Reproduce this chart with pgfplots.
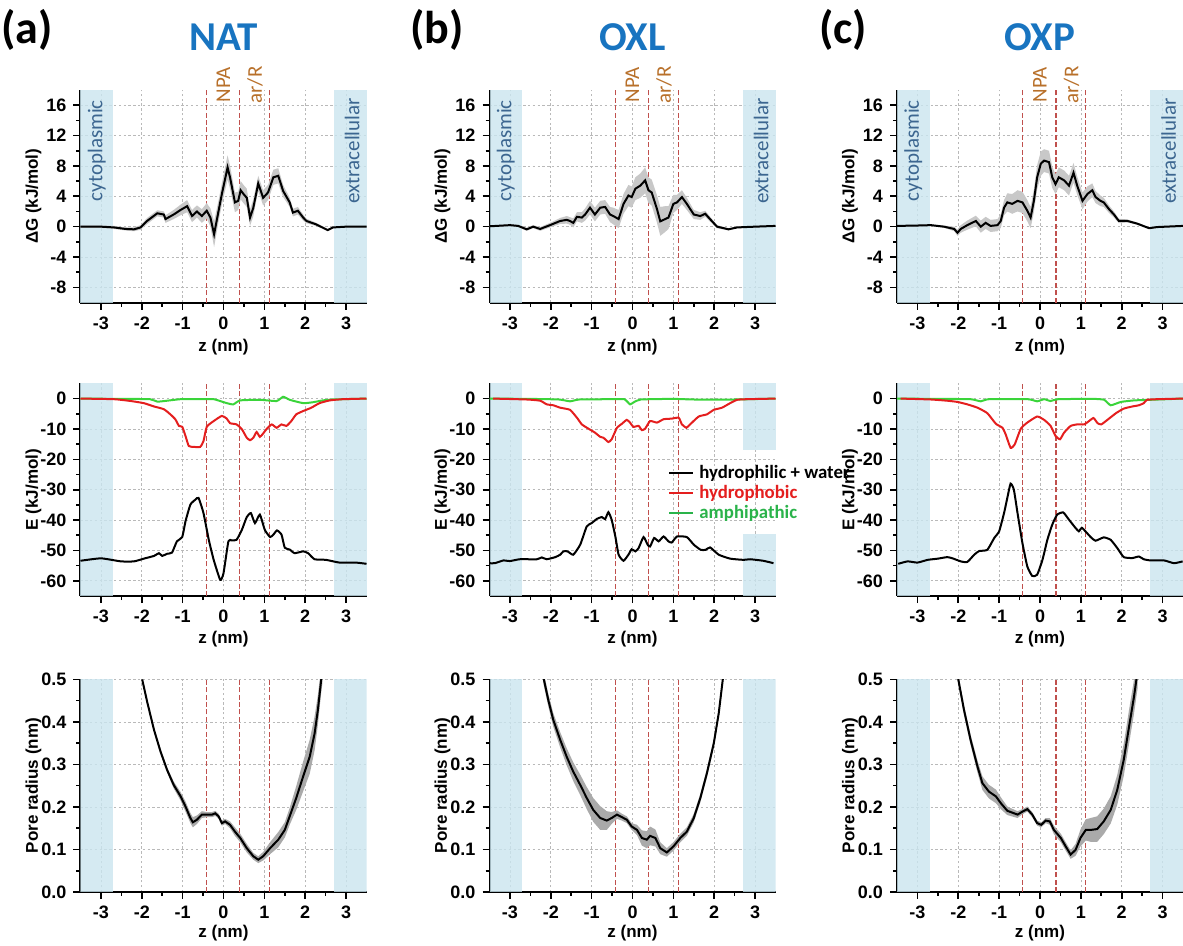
\documentclass[border=0pt]{standalone}
\usepackage{fontspec}
\setmainfont{Liberation Sans}
\newfontfamily\calfont{Carlito}
\usepackage{pgfplots}
\usepackage{pgfplotstable}
\pgfplotsset{compat=1.18}

\definecolor{bandblue}{HTML}{CAE5EF}
\definecolor{bandtxt}{HTML}{3C6690}
\definecolor{titleblue}{HTML}{1874C0}
\definecolor{lblorange}{HTML}{B8702A}
\definecolor{vred}{HTML}{C0504D}
\definecolor{errgray}{HTML}{C8C8C8}
\definecolor{cred}{HTML}{E41E1E}
\definecolor{cgreen}{HTML}{3AD43A}
\definecolor{tgreen}{HTML}{2AB34A}

\newcommand{\tickfont}{\fontsize{9}{10}\selectfont\bfseries}
\newcommand{\labfont}{\fontsize{8.5}{10}\selectfont\bfseries}

\tikzset{vline/.style={vred, line width=0.6pt, dash pattern=on 2.5pt off 1.2pt}}

\pgfplotsset{
  base/.style={
    scale only axis, width=143pt, height=106.3pt,
    anchor=north west,
    xmin=-3.5, xmax=3.5,
    xtick={-3,...,3}, minor x tick num=1,
    minor y tick num=1,
    axis lines=left, axis line style={line width=1pt, -},
    tick style={black, line width=0.8pt},
    major tick length=3.5pt, minor tick length=2pt,
    tick align=outside,
    xmajorgrids, ymajorgrids,
    major grid style={gray!55, dash pattern=on 1.2pt off 1.2pt, line width=0.35pt},
    tick label style={font=\tickfont},
    /pgf/number format/assume math mode=true,
    xlabel={z (nm)},
    every axis x label/.style={at={(axis description cs:0.5,0)}, anchor=center, font=\labfont},
    every axis y label/.style={at={(axis description cs:0,0.5)}, xshift=-23.5pt, rotate=90, anchor=center, font=\labfont},
  },
  grow/.style={base, clip=false, ymin=-10, ymax=18, ytick={-8,-4,...,16}, ylabel={ΔG (kJ/mol)},
    x label style={yshift=-22.5pt}},
  erow/.style={base, clip=false, ymin=-65, ymax=5, ytick={-60,-50,...,0}, ylabel={E (kJ/mol)},
    x label style={yshift=-21.8pt}},
  prow/.style={base, ymin=0, ymax=0.5, ytick={0,0.1,...,0.5}, ylabel={Pore radius (nm)},
    yticklabel style={/pgf/number format/.cd, fixed, fixed zerofill, precision=1},
    x label style={yshift=-20.4pt}},
}

% shaded membrane-side bands (semi-transparent so the grid shows through)
\newcommand{\bandrect}[4]{%
  \fill[bandblue, fill opacity=0.8] (axis cs:#1,#2) rectangle (axis cs:#3,#4);}
\newcommand{\bands}[2]{\bandrect{-3.5}{#1}{-2.7}{#2}\bandrect{2.7}{#1}{3.5}{#2}}
\newcommand{\vlines}[2]{%
  \draw[vline] (axis cs:-0.42,#1) -- (axis cs:-0.42,#2);
  \draw[vline] (axis cs:0.39,#1) -- (axis cs:0.39,#2);
  \draw[vline] (axis cs:1.12,#1) -- (axis cs:1.12,#2);}
\newcommand{\toplabels}{%
  \node[yshift=2.5pt, rotate=90, anchor=center, text=lblorange, font=\calfont\fontsize{10.5}{12}\selectfont] at (axis cs:0,18) {NPA};
  \node[yshift=2.5pt, rotate=90, anchor=center, text=lblorange, font=\calfont\fontsize{10.5}{12}\selectfont] at (axis cs:0.77,18) {ar/R};
  \node[rotate=90, anchor=center, text=bandtxt, font=\calfont\fontsize{10.5}{12}\selectfont] at (axis cs:-3.1,10) {cytoplasmic};
  \node[rotate=90, anchor=center, text=bandtxt, font=\calfont\fontsize{10.5}{12}\selectfont] at (axis cs:3.15,10) {extracellular};}
% error band of column #2 (+/- column #3) of table #1, then the line itself
\newcommand{\errline}[4]{%
  \addplot[draw=none, stack plots=y, forget plot] table[x=z, y expr=\thisrow{#2}-\thisrow{#3}] {#1};
  \addplot[fill=#4, draw=none, stack plots=y, forget plot] table[x=z, y expr=2*\thisrow{#3}] {#1} \closedcycle;
  \addplot[black, line width=1pt, stack plots=false] table[x=z, y=#2] {#1};}

% Delta G profiles: z, G, error
\pgfplotstableread{
z g e
-3.5 0 0.15
-3.0 0 0.15
-2.68 -0.1 0.2
-2.4 -0.3 0.2
-2.19 -0.35 0.25
-2.03 -0.1 0.3
-1.87 0.75 0.4
-1.62 1.76 0.4
-1.46 1.6 0.4
-1.42 1.0 0.5
-1.22 1.6 0.6
-1.05 2.2 0.7
-0.89 2.7 0.8
-0.77 1.4 0.8
-0.65 2.0 0.8
-0.53 1.4 0.9
-0.41 2.1 1.0
-0.32 1.2 1.2
-0.23 -1.0 1.7
-0.12 2.1 1.4
-0.04 4.3 1.4
0.1 7.8 1.6
0.16 6.5 1.5
0.28 3.2 1.3
0.36 3.4 1.2
0.42 4.8 1.2
0.49 4.3 1.2
0.57 3.8 1.2
0.65 1.2 1.1
0.73 2.5 1.1
0.85 5.7 1.0
0.97 3.8 1.0
1.09 4.5 1.0
1.22 6.5 1.0
1.34 6.7 1.0
1.46 4.7 0.8
1.62 3.2 0.6
1.70 1.85 0.5
1.82 2.1 0.5
1.95 1.2 0.4
2.03 0.75 0.3
2.27 0.3 0.2
2.55 -0.45 0.15
2.68 -0.1 0.1
3.0 0 0.1
3.5 0 0.1
}\gNAT
\pgfplotstableread{
z g e
-3.5 0.05 0.1
-3.0 0.2 0.1
-2.8 0.1 0.15
-2.59 -0.35 0.2
-2.43 0.0 0.2
-2.26 -0.3 0.25
-2.02 0.2 0.3
-1.77 0.75 0.4
-1.61 0.9 0.5
-1.53 0.75 0.5
-1.45 0.5 0.6
-1.36 1.3 0.6
-1.24 1.2 0.7
-1.16 1.6 0.8
-1.04 2.5 0.9
-0.92 1.6 0.9
-0.79 2.5 0.9
-0.67 2.6 0.9
-0.55 1.6 1.0
-0.47 1.4 1.1
-0.34 1.0 1.2
-0.22 3.0 1.3
-0.1 4.1 1.4
-0.02 3.9 1.4
0.07 5.0 1.5
0.19 5.4 1.6
0.31 6.1 1.7
0.39 4.8 1.7
0.47 4.5 1.7
0.6 2.3 1.8
0.68 0.7 1.9
0.8 1.0 1.7
0.88 1.2 1.5
1.0 3.0 1.2
1.09 3.2 1.0
1.21 3.9 0.9
1.33 3.0 0.8
1.5 1.6 0.6
1.66 1.4 0.5
1.78 1.7 0.4
1.94 0.75 0.3
2.07 0.0 0.2
2.35 -0.35 0.15
2.56 -0.1 0.1
3.0 0.0 0.1
3.5 0.1 0.1
}\gOXL
\pgfplotstableread{
z g e
-3.5 0.1 0.1
-3.0 0.15 0.1
-2.67 0.2 0.1
-2.35 0.0 0.15
-2.1 -0.3 0.3
-2.02 -0.8 0.4
-1.94 -0.3 0.5
-1.78 0.2 0.6
-1.57 0.75 0.7
-1.45 0.0 0.8
-1.33 0.5 0.8
-1.21 0.1 0.8
-1.04 0.2 0.8
-0.96 0.75 0.9
-0.88 2.5 1.0
-0.8 3.2 1.2
-0.68 3.0 1.3
-0.55 3.4 1.4
-0.43 3.2 1.4
-0.31 2.1 1.4
-0.23 1.2 1.4
-0.15 3.4 1.5
-0.07 6.5 1.6
0.02 8.3 1.6
0.1 8.7 1.5
0.22 8.5 1.5
0.3 6.5 1.4
0.38 5.6 1.3
0.46 6.5 1.3
0.59 6.1 1.3
0.71 5.4 1.3
0.82 7.1 1.3
0.91 5.4 1.2
1.04 3.4 1.1
1.16 4.3 1.0
1.28 4.8 0.9
1.36 3.9 0.8
1.48 3.4 0.7
1.56 3.2 0.6
1.69 2.3 0.5
1.81 1.6 0.4
1.93 0.75 0.3
2.14 0.75 0.2
2.38 0.4 0.15
2.67 -0.2 0.1
2.87 -0.05 0.1
3.5 0.1 0.1
}\gOXP

% Energy profiles
\pgfplotstableread{
z E
-3.5 -53.4
-3.0 -52.6
-2.51 -53.6
-2.19 -53.6
-1.95 -52.7
-1.7 -51.8
-1.58 -50.9
-1.5 -51.8
-1.38 -51.1
-1.26 -50.7
-1.14 -47.0
-1.01 -45.6
-0.93 -40.4
-0.81 -34.9
-0.69 -33.3
-0.61 -32.7
-0.49 -37.7
-0.36 -46.5
-0.24 -53.1
-0.08 -59.7
0.0 -57.5
0.12 -47.0
0.2 -46.7
0.32 -46.5
0.45 -43.2
0.57 -39.0
0.67 -37.7
0.77 -41.0
0.89 -38.2
1.01 -43.2
1.14 -45.6
1.22 -44.8
1.31 -43.4
1.42 -44.8
1.5 -49.1
1.62 -49.7
1.74 -50.9
1.95 -50.3
2.07 -50.9
2.23 -52.9
2.51 -53.1
2.84 -54.0
3.24 -54.0
3.5 -54.4
}\eNATk
\pgfplotstableread{
z E
-3.5 0
-2.68 -0.2
-2.27 -0.8
-1.95 -1.5
-1.7 -2.6
-1.46 -3.5
-1.3 -5.2
-1.18 -6.8
-1.09 -9.0
-1.01 -9.3
-0.93 -12.3
-0.85 -15.6
-0.73 -15.9
-0.57 -15.9
-0.49 -14.0
-0.41 -9.3
-0.24 -7.4
-0.04 -5.7
0.08 -6.6
0.16 -8.1
0.32 -8.5
0.45 -10.1
0.57 -12.9
0.65 -13.7
0.73 -12.9
0.81 -11.0
0.89 -12.6
0.97 -11.5
1.05 -10.1
1.18 -8.5
1.3 -9.6
1.42 -8.5
1.54 -9.0
1.66 -7.4
1.78 -5.2
1.95 -4.1
2.15 -3.0
2.35 -1.5
2.6 -0.6
2.92 -0.2
3.5 0
}\eNATr
\pgfplotstableread{
z E
-3.5 0
-2.5 -0.1
-1.8 -0.2
-1.62 -1.0
-1.38 -0.7
-1.05 -0.2
-0.57 -0.2
-0.24 -0.2
0.08 -1.5
0.24 -1.9
0.41 -0.6
0.89 -0.4
1.3 -0.8
1.46 0.6
1.62 -0.4
1.95 -1.5
2.19 -1.2
2.43 -0.6
2.68 -0.3
3.5 0
}\eNATg
\pgfplotstableread{
z E
-3.5 -54.2
-3.37 -54.2
-3.16 -53.3
-3.0 -53.5
-2.76 -52.9
-2.34 -52.9
-2.22 -52.3
-2.1 -52.9
-1.89 -52.2
-1.77 -51.4
-1.69 -50.3
-1.59 -50.3
-1.45 -51.4
-1.28 -48.1
-1.12 -42.1
-1.0 -41.0
-0.87 -39.6
-0.75 -39.0
-0.67 -39.7
-0.59 -37.4
-0.51 -39.9
-0.42 -45.4
-0.34 -51.4
-0.22 -53.4
-0.1 -51.4
-0.02 -49.6
0.07 -50.3
0.15 -49.2
0.27 -45.6
0.37 -48.1
0.43 -48.7
0.53 -45.9
0.64 -47.0
0.76 -45.4
0.88 -47.0
0.96 -47.4
1.09 -45.4
1.33 -45.6
1.5 -48.1
1.67 -49.8
1.79 -49.8
1.9 -49.0
2.11 -51.4
2.39 -52.7
2.72 -53.1
2.88 -52.9
3.2 -53.4
3.45 -54.2
}\eOXLk
\pgfplotstableread{
z E
-3.41 0
-2.59 -0.3
-2.26 -0.7
-2.1 -1.9
-1.94 -2.2
-1.77 -3.0
-1.53 -3.7
-1.36 -6.3
-1.24 -8.5
-1.08 -9.9
-0.92 -11.2
-0.79 -12.6
-0.71 -12.9
-0.59 -14.3
-0.51 -13.4
-0.38 -9.6
-0.26 -8.3
-0.14 -7.0
-0.06 -7.9
0.02 -9.3
0.15 -9.0
0.23 -10.4
0.31 -9.9
0.43 -7.4
0.6 -7.9
0.76 -6.8
0.96 -6.6
1.13 -6.3
1.21 -8.5
1.32 -9.6
1.41 -8.5
1.62 -5.9
1.82 -5.2
1.99 -3.7
2.19 -3.0
2.39 -1.5
2.56 -0.4
2.8 -0.2
3.5 0
}\eOXLr
\pgfplotstableread{
z E
-3.5 0
-2.5 -0.1
-1.8 -0.3
-1.53 -0.9
-1.3 -0.3
-0.5 -0.2
-0.2 -0.2
-0.06 -1.9
0.02 -1.3
0.2 -0.3
1.0 -0.1
1.5 -0.3
2.5 -0.3
3.5 0
}\eOXLg
\pgfplotstableread{
z E
-3.47 -54.4
-3.24 -53.6
-3.0 -54.0
-2.75 -53.1
-2.5 -52.7
-2.27 -52.2
-2.14 -52.6
-1.94 -53.6
-1.78 -53.8
-1.61 -51.4
-1.49 -50.2
-1.29 -49.8
-1.12 -45.9
-1.0 -43.7
-0.88 -37.7
-0.8 -32.7
-0.72 -28.0
-0.64 -30.0
-0.55 -37.7
-0.43 -47.6
-0.31 -55.3
-0.19 -58.4
-0.07 -58.0
0.06 -53.1
0.18 -46.5
0.3 -41.5
0.42 -38.2
0.57 -37.5
0.71 -39.9
0.87 -42.6
0.95 -43.7
1.03 -42.6
1.24 -45.6
1.36 -46.8
1.56 -45.7
1.73 -46.5
1.89 -49.2
2.05 -52.2
2.26 -52.5
2.42 -52.0
2.54 -52.9
2.71 -53.3
3.04 -53.3
3.28 -54.2
3.49 -53.6
}\eOXPk
\pgfplotstableread{
z E
-3.41 0
-2.67 -0.3
-2.27 -0.7
-2.02 -1.1
-1.78 -1.9
-1.53 -3.0
-1.29 -4.8
-1.08 -8.3
-0.92 -9.6
-0.84 -11.8
-0.72 -16.2
-0.62 -15.1
-0.47 -9.9
-0.31 -7.9
-0.07 -5.9
0.1 -7.0
0.26 -9.0
0.38 -12.3
0.49 -13.4
0.59 -11.2
0.75 -9.0
0.91 -8.5
1.08 -8.5
1.2 -7.4
1.31 -6.4
1.41 -8.1
1.5 -8.5
1.65 -7.0
1.86 -4.8
2.05 -3.3
2.26 -2.6
2.42 -2.2
2.54 -1.5
2.62 -0.4
2.87 -0.2
3.5 0
}\eOXPr
\pgfplotstableread{
z E
-3.5 0
-2.5 -0.1
-1.7 -0.2
-1.45 -0.9
-1.25 -0.2
-0.3 -0.2
-0.07 -0.9
0.1 -0.2
0.26 -0.8
0.45 -0.2
1.3 -0.1
1.57 -0.4
1.73 -2.2
1.98 -1.1
2.3 -0.6
2.7 -0.4
3.5 0
}\eOXPg

% Pore radius: z, r, error
\pgfplotstableread{
z r e
-1.99 0.5 0.005
-1.87 0.448 0.005
-1.70 0.381 0.005
-1.54 0.330 0.006
-1.38 0.287 0.006
-1.22 0.252 0.008
-1.05 0.225 0.010
-0.93 0.201 0.012
-0.81 0.174 0.012
-0.75 0.164 0.012
-0.65 0.170 0.010
-0.53 0.182 0.008
-0.41 0.182 0.006
-0.28 0.182 0.006
-0.2 0.185 0.006
-0.12 0.178 0.006
-0.04 0.162 0.006
0.04 0.166 0.006
0.16 0.158 0.008
0.28 0.142 0.010
0.41 0.127 0.010
0.57 0.103 0.010
0.73 0.084 0.008
0.85 0.076 0.008
0.97 0.084 0.010
1.14 0.103 0.014
1.34 0.123 0.018
1.5 0.146 0.018
1.62 0.178 0.020
1.78 0.221 0.028
1.95 0.272 0.035
2.11 0.318 0.040
2.23 0.373 0.040
2.31 0.428 0.035
2.39 0.498 0.030
2.42 0.52 0.03
}\rNAT
\pgfplotstableread{
z r e
-2.2 0.52 0.015
-2.17 0.5 0.015
-2.06 0.451 0.015
-1.94 0.405 0.016
-1.77 0.358 0.018
-1.61 0.318 0.020
-1.45 0.283 0.022
-1.28 0.252 0.024
-1.12 0.221 0.026
-0.96 0.193 0.028
-0.79 0.174 0.028
-0.63 0.168 0.022
-0.51 0.174 0.014
-0.38 0.182 0.010
-0.26 0.176 0.008
-0.14 0.170 0.008
-0.02 0.154 0.008
0.11 0.146 0.012
0.23 0.127 0.018
0.35 0.123 0.020
0.43 0.132 0.022
0.56 0.127 0.020
0.68 0.103 0.014
0.84 0.093 0.010
1.0 0.107 0.010
1.17 0.127 0.010
1.33 0.142 0.010
1.5 0.174 0.010
1.66 0.221 0.010
1.82 0.279 0.010
1.99 0.350 0.010
2.11 0.420 0.010
2.21 0.5 0.010
2.24 0.52 0.01
}\rOXL
\pgfplotstableread{
z r e
-2.03 0.52 0.012
-2.0 0.5 0.012
-1.86 0.428 0.012
-1.7 0.358 0.012
-1.53 0.295 0.014
-1.41 0.256 0.016
-1.25 0.236 0.016
-1.08 0.225 0.016
-0.96 0.209 0.014
-0.8 0.191 0.010
-0.55 0.182 0.008
-0.43 0.189 0.006
-0.31 0.195 0.006
-0.19 0.182 0.006
-0.07 0.162 0.006
0.03 0.158 0.006
0.14 0.168 0.006
0.24 0.166 0.008
0.34 0.146 0.010
0.51 0.127 0.010
0.63 0.107 0.010
0.75 0.088 0.010
0.87 0.099 0.014
0.99 0.127 0.020
1.12 0.146 0.025
1.24 0.146 0.028
1.4 0.148 0.030
1.56 0.166 0.030
1.73 0.193 0.032
1.89 0.240 0.035
2.05 0.311 0.038
2.18 0.389 0.040
2.3 0.459 0.040
2.36 0.5 0.040
2.39 0.52 0.04
}\rOXP

\begin{document}
\begin{tikzpicture}
\useasboundingbox (0,0) rectangle (591.5pt,-473pt);

% ---------- titles ----------
\node[font=\calfont\bfseries\fontsize{23}{26}\selectfont] at (13.5pt,-15pt) {(a)};
\node[font=\calfont\bfseries\fontsize{23}{26}\selectfont] at (218.5pt,-15pt) {(b)};
\node[font=\calfont\bfseries\fontsize{23}{26}\selectfont] at (421.5pt,-15pt) {(c)};
\node[font=\calfont\bfseries\fontsize{20.5}{23}\selectfont, text=titleblue] at (111.8pt,-18.8pt) {NAT};
\node[font=\calfont\bfseries\fontsize{20.5}{23}\selectfont, text=titleblue] at (316.2pt,-18.8pt) {OXL};
\node[font=\calfont\bfseries\fontsize{20.5}{23}\selectfont, text=titleblue] at (519.8pt,-18.8pt) {OXP};

% ---------- row 1: Delta G ----------
\begin{axis}[grow, at={(40.25pt,-45pt)}]
\bands{-10}{18}
\vlines{-10}{18}
\errline{\gNAT}{g}{e}{errgray}
\toplabels
\end{axis}
\begin{axis}[grow, at={(244.75pt,-45pt)}]
\bands{-10}{18}
\vlines{-10}{18}
\errline{\gOXL}{g}{e}{errgray}
\toplabels
\end{axis}
\begin{axis}[grow, at={(448.5pt,-45pt)}]
\bands{-10}{18}
\vlines{-10}{18}
\errline{\gOXP}{g}{e}{errgray}
\toplabels
\end{axis}

% ---------- row 2: energies ----------
\begin{axis}[erow, at={(40.25pt,-191.7pt)}]
\bands{-65}{5}
\vlines{-65}{5}
\addplot[cgreen, line width=1pt, smooth, tension=0.3] table[x=z, y=E] {\eNATg};
\addplot[cred, line width=1pt, smooth, tension=0.3] table[x=z, y=E] {\eNATr};
\addplot[black, line width=1pt, smooth, tension=0.3] table[x=z, y=E] {\eNATk};
\end{axis}
\begin{axis}[erow, at={(244.75pt,-191.7pt)}]
\bandrect{-3.5}{-65}{-2.7}{5}
\bandrect{2.7}{-17}{3.5}{5}
\bandrect{2.7}{-65}{3.5}{-44.5}
\vlines{-65}{5}
\addplot[cgreen, line width=1pt, smooth, tension=0.3] table[x=z, y=E] {\eOXLg};
\addplot[cred, line width=1pt, smooth, tension=0.3] table[x=z, y=E] {\eOXLr};
\addplot[black, line width=1pt, smooth, tension=0.3] table[x=z, y=E] {\eOXLk};
\end{axis}
\begin{axis}[erow, at={(448.5pt,-191.7pt)}]
\bands{-65}{5}
\vlines{-65}{5}
\addplot[cgreen, line width=1pt, smooth, tension=0.3] table[x=z, y=E] {\eOXPg};
\addplot[cred, line width=1pt, smooth, tension=0.3] table[x=z, y=E] {\eOXPr};
\addplot[black, line width=1pt, smooth, tension=0.3] table[x=z, y=E] {\eOXPk};
\end{axis}

% legend
\draw[black, line width=1.4pt] (334.5pt,-236.5pt) -- (346.5pt,-236.5pt);
\draw[cred, line width=1.4pt] (334.5pt,-246.5pt) -- (346.5pt,-246.5pt);
\draw[tgreen, line width=1.4pt] (334.5pt,-256.5pt) -- (346.5pt,-256.5pt);
\node[anchor=west, inner sep=0pt, font=\calfont\bfseries\fontsize{9.4}{11}\selectfont] at (349.5pt,-236.5pt) {hydrophilic + water};
\node[anchor=west, inner sep=0pt, font=\calfont\bfseries\fontsize{9.4}{11}\selectfont, text=cred] at (349.5pt,-246.5pt) {hydrophobic};
\node[anchor=west, inner sep=0pt, font=\calfont\bfseries\fontsize{9.4}{11}\selectfont, text=tgreen] at (349.5pt,-256.5pt) {amphipathic};

% ---------- row 3: pore radius ----------
\begin{axis}[prow, at={(40.25pt,-339.7pt)}]
\bands{0}{0.5}
\vlines{0}{0.5}
\errline{\rNAT}{r}{e}{errgray!85!black}
\end{axis}
\begin{axis}[prow, at={(244.75pt,-339.7pt)}]
\bands{0}{0.5}
\vlines{0}{0.5}
\errline{\rOXL}{r}{e}{errgray!85!black}
\end{axis}
\begin{axis}[prow, at={(448.5pt,-339.7pt)}]
\bands{0}{0.5}
\vlines{0}{0.5}
\errline{\rOXP}{r}{e}{errgray!85!black}
\end{axis}
\end{tikzpicture}
\end{document}
